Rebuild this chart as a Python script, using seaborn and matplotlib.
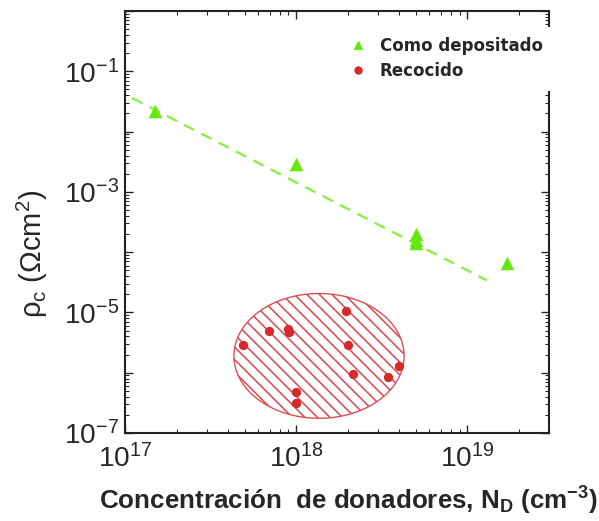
import numpy as np
import pandas as pd
import matplotlib
matplotlib.use("Agg")
import matplotlib.pyplot as plt
import seaborn as sns
from matplotlib.ticker import LogLocator, FuncFormatter, NullFormatter
from matplotlib.lines import Line2D

# ---- data ----
dep_x = [1.5e17, 1.0e18, 5.0e18, 5.0e18, 5.0e18, 1.7e19]
dep_y = [2.2e-2, 2.9e-3, 2.0e-4, 1.6e-4, 1.4e-4, 6.5e-5]
rec_x = [4.9e17, 6.9e17, 9.0e17, 9.1e17, 1.0e18, 1.0e18, 1.95e18, 2.0e18, 2.15e18, 3.45e18, 4.0e18]
rec_y = [2.9e-6, 4.9e-6, 5.4e-6, 4.7e-6, 4.8e-7, 3.1e-7, 1.04e-5, 2.85e-6, 9.4e-7, 8.4e-7, 1.28e-6]
fit_x = [1.1e17, 1.3e19]
fit_y = [3.6e-2, 3.4e-5]
series_names = ["Como depositado", "Recocido"]
x_label = "Concentración  de donadores, N$_{\\mathregular{D}}$ (cm$^{\\mathregular{-3}}$)"
y_label = "$\\mathregular{\\rho_c}$ (Ωcm$^{\\mathregular{2}}$)"

DPI = 75
sns.set_style("ticks")
plt.rcParams["font.family"] = ["Liberation Sans", "DejaVu Sans"]
plt.rcParams["mathtext.fontset"] = "custom"
plt.rcParams["mathtext.rm"] = "Liberation Sans"
plt.rcParams["mathtext.it"] = "Liberation Sans:italic"
plt.rcParams["mathtext.bf"] = "Liberation Sans:bold"
plt.rcParams["mathtext.default"] = "regular"
plt.rcParams["hatch.linewidth"] = 1.5
plt.rcParams["hatch.color"] = "#db4a52"

fig = plt.figure(figsize=(599 / DPI, 521 / DPI), dpi=DPI)
ax = fig.add_axes([125 / 599, 1 - 433 / 521, 424 / 599, 422 / 521])
ax.set_xscale("log")
ax.set_yscale("log")
ax.set_xlim(1e17, 3e19)
ax.set_ylim(1e-7, 1e0)

GREEN = "#66e80a"
LINE_GREEN = "#8aee40"
RED = "#d42a2a"

# hatched ellipse (in log space)
t = np.linspace(0, 2 * np.pi, 300)
cx, cy, a, b = np.log10(1.36e18), np.log10(1.9e-6), 0.497, 1.035
ex = 10 ** (cx + a * np.cos(t))
ey = 10 ** (cy + b * np.sin(t))
ax.fill(ex, ey, facecolor="white", edgecolor="#db4a52", hatch="\\\\", linewidth=1.3, zorder=1)

fit_df = pd.DataFrame({"x": fit_x, "y": fit_y})
sns.lineplot(data=fit_df, x="x", y="y", ax=ax, color=LINE_GREEN, linewidth=2.2,
             linestyle=(0, (5, 3.5)), zorder=2)

dep_df = pd.DataFrame({"x": dep_x, "y": dep_y})
rec_df = pd.DataFrame({"x": rec_x, "y": rec_y})
sns.scatterplot(data=dep_df, x="x", y="y", ax=ax, marker="^", s=170, color=GREEN,
                edgecolor=GREEN, linewidth=0, zorder=3)
sns.scatterplot(data=rec_df, x="x", y="y", ax=ax, marker="o", s=80, color=RED,
                edgecolor=RED, linewidth=0, zorder=3)

# ticks
ax.xaxis.set_major_locator(LogLocator(base=10, numticks=20))
ax.xaxis.set_minor_locator(LogLocator(base=10, subs=np.arange(2, 10), numticks=50))
ax.yaxis.set_major_locator(LogLocator(base=10, numticks=20))
ax.yaxis.set_minor_locator(LogLocator(base=10, subs=np.arange(2, 10), numticks=50))
ax.xaxis.set_minor_formatter(NullFormatter())
ax.yaxis.set_minor_formatter(NullFormatter())
ax.xaxis.set_major_formatter(FuncFormatter(lambda v, p: "$10^{%d}$" % round(np.log10(v))))
def yfmt(v, p):
    e = round(np.log10(v))
    return "$10^{%d}$" % e if e % 2 != 0 else ""
ax.yaxis.set_major_formatter(FuncFormatter(yfmt))
ax.tick_params(which="both", direction="in", top=True, right=True, color="#222222")
ax.tick_params(which="major", length=8, width=1.3, labelsize=27)
ax.tick_params(axis="x", which="major", pad=11)
ax.tick_params(axis="y", which="major", pad=6)
ax.tick_params(which="minor", length=4, width=1.0)
for s in ax.spines.values():
    s.set_linewidth(2.0)
    s.set_color("#222222")

ax.set_xlabel(x_label, fontsize=25, fontweight="bold")
ax.xaxis.set_label_coords(0.526, -0.123)
ax.set_ylabel(y_label, fontsize=28)
ax.yaxis.set_label_coords(-0.177, 0.424)

handles = [Line2D([], [], marker="^", linestyle="none", color=GREEN, markersize=8),
           Line2D([], [], marker="o", linestyle="none", color=RED, markersize=7)]
leg = ax.legend(handles, series_names, loc="upper right", bbox_to_anchor=(1.009, 0.963),
                frameon=True, fancybox=False, framealpha=1, edgecolor="white",
                prop={"family": "DejaVu Sans", "weight": "bold", "size": 16},
                handletextpad=0.8, labelspacing=0.42, borderpad=0.6, handlelength=1.0,
                borderaxespad=0.0)
leg.set_zorder(5)

fig.savefig("out.png", dpi=DPI)
